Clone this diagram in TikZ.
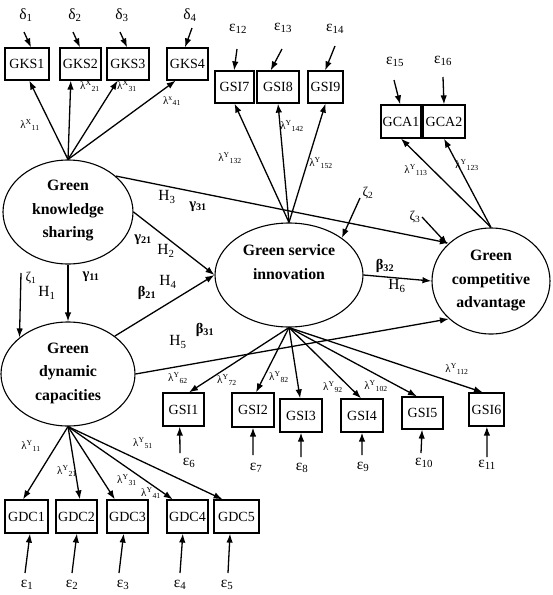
\documentclass[tikz,border=0pt]{standalone}
\usepackage{fontspec}
\setmainfont{Liberation Serif}
\usetikzlibrary{shapes.geometric,arrows.meta,calc}
\newcommand\lmb[2]{λ\textsuperscript{#1}\textsubscript{#2}}
\begin{document}
\begin{tikzpicture}[x=1pt,y=-1pt,
 arr/.style={-{Latex[length=9pt,width=6.5pt]}, line width=1.3pt},
 box/.style={draw, line width=1.2pt, minimum width=#1, minimum height=32pt, inner sep=0pt, font=\fontsize{14}{15}\selectfont},
 lat/.style={draw, ellipse, line width=1.1pt, inner sep=0pt},
 lattxt/.style={align=center, inner sep=0pt, font=\fontsize{15.8}{23.5}\selectfont\bfseries},
 err/.style={font=\fontsize{15.5}{17}\selectfont, inner sep=0pt},
 zet/.style={font=\fontsize{13.5}{15}\selectfont, inner sep=0pt},
 lam/.style={font=\fontsize{11}{12}\selectfont, inner sep=0pt},
 coef/.style={font=\fontsize{14.5}{16}\selectfont\bfseries, inner sep=0pt},
 hyp/.style={font=\fontsize{15.5}{17}\selectfont, inner sep=0pt},
]
\useasboundingbox (0,0) rectangle (553,595);

% latent variables
\node[lat, minimum width=130pt, minimum height=104pt] (gks) at (68,212) {};
\node[lat, minimum width=148pt, minimum height=104pt] (gsi) at (289,275) {};
\node[lat, minimum width=118pt, minimum height=106pt] (gca) at (491,281) {};
\node[lat, minimum width=134pt, minimum height=104pt] (gdc) at (68,374) {};
\node[lattxt] (gkst) at (68,211) {Green\\knowledge\\sharing};
\node[lattxt] (gsit) at (289,262) {Green service\\innovation};
\node[lattxt] (gcat) at (491,281) {Green\\competitive\\advantage};
\node[lattxt] (gdct) at (68,373) {Green\\dynamic\\capacities};

% GKS boxes
\node[box=44pt] (gks1) at (27,64) {GKS1};
\node[box=41pt] (gks2) at (80.5,64) {GKS2};
\node[box=42pt] (gks3) at (128,64) {GKS3};
\node[box=41pt] (gks4) at (187.5,64) {GKS4};
% GSI7-9
\node[box=39pt] (gsi7) at (234.5,87) {GSI7};
\node[box=42pt] (gsi8) at (278,87) {GSI8};
\node[box=35pt] (gsi9) at (325.5,87) {GSI9};
% GCA
\node[box=40pt, minimum height=33pt] (gca1) at (401,121.5) {GCA1};
\node[box=42pt, minimum height=33pt] (gca2) at (444,121.5) {GCA2};
% GSI1-6
\node[box=41pt, minimum height=33pt] (gsi1) at (183.5,409.5) {GSI1};
\node[box=42pt, minimum height=34pt] (gsi2) at (253,410) {GSI2};
\node[box=42pt, minimum height=33pt] (gsi3) at (301,415.5) {GSI3};
\node[box=42pt, minimum height=33pt] (gsi4) at (362,415.5) {GSI4};
\node[box=41pt, minimum height=32pt] (gsi5) at (422.5,413) {GSI5};
\node[box=35pt, minimum height=33pt] (gsi6) at (486.5,409.5) {GSI6};
% GDC
\node[box=43pt, minimum height=33pt] (gdc1) at (26.5,516.5) {GDC1};
\node[box=41pt, minimum height=33pt] (gdc2) at (76.5,516.5) {GDC2};
\node[box=41pt, minimum height=33pt] (gdc3) at (127.5,516.5) {GDC3};
\node[box=41pt, minimum height=33pt] (gdc4) at (187.5,516.5) {GDC4};
\node[box=45pt, minimum height=33pt] (gdc5) at (236.5,516.5) {GDC5};

% error labels
\node[err] (d1) at (26,15) {δ\textsubscript{1}};
\node[err] (d2) at (75,15) {δ\textsubscript{2}};
\node[err] (d3) at (122,15) {δ\textsubscript{3}};
\node[err] (d4) at (190,15) {δ\textsubscript{4}};
\node[err] (e12) at (238,29) {ε\textsubscript{12}};
\node[err] (e13) at (283,28) {ε\textsubscript{13}};
\node[err] (e14) at (335,29) {ε\textsubscript{14}};
\node[err] (e15) at (395,62) {ε\textsubscript{15}};
\node[err] (e16) at (443,61) {ε\textsubscript{16}};
\node[err] (e6) at (189,463) {ε\textsubscript{6}};
\node[err] (e7) at (256,468) {ε\textsubscript{7}};
\node[err] (e8) at (302,468) {ε\textsubscript{8}};
\node[err] (e9) at (363,467) {ε\textsubscript{9}};
\node[err] (e10) at (424,463) {ε\textsubscript{10}};
\node[err] (e11) at (487,465) {ε\textsubscript{11}};
\node[err] (e1) at (27,585) {ε\textsubscript{1}};
\node[err] (e2) at (72,585) {ε\textsubscript{2}};
\node[err] (e3) at (123,585) {ε\textsubscript{3}};
\node[err] (e4) at (180,585) {ε\textsubscript{4}};
\node[err] (e5) at (227,585) {ε\textsubscript{5}};
\node[zet] (z1) at (31,278) {ζ\textsubscript{1}};
\node[zet] (z2) at (368,193) {ζ\textsubscript{2}};
\node[zet] (z3) at (415,217) {ζ\textsubscript{3}};

% error arrow start points
\coordinate (cd1) at (24,32);
\coordinate (cd2) at (73,32);
\coordinate (cd3) at (120,32);
\coordinate (cd4) at (192,28);
\coordinate (ce12) at (237,49);
\coordinate (ce13) at (282,49);
\coordinate (ce14) at (335,46);
\coordinate (ce15) at (394,80);
\coordinate (ce16) at (443,77);
\coordinate (ce6) at (180,453);
\coordinate (ce7) at (253,455);
\coordinate (ce8) at (301,457);
\coordinate (ce9) at (362,455);
\coordinate (ce10) at (421,453);
\coordinate (ce11) at (487,457);
\coordinate (ce1) at (25,573);
\coordinate (ce2) at (72,573);
\coordinate (ce3) at (119,573);
\coordinate (ce4) at (180,573);
\coordinate (ce5) at (228,573);
\coordinate (cz1) at (21,273);
\coordinate (cz2) at (360,198);
\coordinate (cz3) at (422,217);

% error arrows
\draw[arr] (cd1) -- ($(gks1.north west)!0.59!(gks1.north east)$);
\draw[arr] (cd2) -- ($(gks2.north west)!0.49!(gks2.north east)$);
\draw[arr] (cd3) -- ($(gks3.north west)!0.48!(gks3.north east)$);
\draw[arr] (cd4) -- ($(gks4.north west)!0.44!(gks4.north east)$);
\draw[arr] (ce12) -- ($(gsi7.north west)!0.49!(gsi7.north east)$);
\draw[arr] (ce13) -- ($(gsi8.north west)!0.33!(gsi8.north east)$);
\draw[arr] (ce14) -- ($(gsi9.north west)!0.49!(gsi9.north east)$);
\draw[arr] (ce15) -- ($(gca1.north west)!0.48!(gca1.north east)$);
\draw[arr] (ce16) -- ($(gca2.north west)!0.5!(gca2.north east)$);
\draw[arr] (ce6) -- ($(gsi1.south west)!0.41!(gsi1.south east)$);
\draw[arr] (ce7) -- ($(gsi2.south west)!0.5!(gsi2.south east)$);
\draw[arr] (ce8) -- ($(gsi3.south west)!0.5!(gsi3.south east)$);
\draw[arr] (ce9) -- ($(gsi4.south west)!0.5!(gsi4.south east)$);
\draw[arr] (ce10) -- ($(gsi5.south west)!0.49!(gsi5.south east)$);
\draw[arr] (ce11) -- ($(gsi6.south west)!0.51!(gsi6.south east)$);
\draw[arr] (ce1) -- ($(gdc1.south west)!0.58!(gdc1.south east)$);
\draw[arr] (ce2) -- ($(gdc2.south west)!0.51!(gdc2.south east)$);
\draw[arr] (ce3) -- ($(gdc3.south west)!0.41!(gdc3.south east)$);
\draw[arr] (ce4) -- ($(gdc4.south west)!0.39!(gdc4.south east)$);
\draw[arr] (ce5) -- ($(gdc5.south west)!0.36!(gdc5.south east)$);
\draw[arr] (cz1) -- (gdc.143);
\draw[arr] (cz2) -- (gsi.35);
\draw[arr] (cz3) -- (gca.140);

% loadings
\draw[arr] (gks.north) -- ($(gks1.south west)!0.55!(gks1.south east)$);
\draw[arr] (gks.north) -- ($(gks2.south west)!0.27!(gks2.south east)$);
\draw[arr] (gks.north) -- ($(gks3.south west)!0.26!(gks3.south east)$);
\draw[arr] (gks.north) -- ($(gks4.south west)!0.22!(gks4.south east)$);
\draw[arr] (gsi.north) -- (gsi7.south);
\draw[arr] (gsi.north) -- (gsi8.south);
\draw[arr] (gsi.north) -- (gsi9.south);
\draw[arr] (gca.north) -- (gca1.south);
\draw[arr] (gca.north) -- (gca2.south);
\draw[arr] (gsi.south) -- ($(gsi1.north west)!0.63!(gsi1.north east)$);
\draw[arr] (gsi.south) -- ($(gsi2.north west)!0.57!(gsi2.north east)$);
\draw[arr] (gsi.south) -- ($(gsi3.north west)!0.48!(gsi3.north east)$);
\draw[arr] (gsi.south) -- ($(gsi4.north west)!0.48!(gsi4.north east)$);
\draw[arr] (gsi.south) -- ($(gsi5.north west)!0.37!(gsi5.north east)$);
\draw[arr] (gsi.south) -- ($(gsi6.north west)!0.4!(gsi6.north east)$);
\draw[arr] (gdc.south) -- ($(gdc1.north west)!0.42!(gdc1.north east)$);
\draw[arr] (gdc.south) -- ($(gdc2.north west)!0.58!(gdc2.north east)$);
\draw[arr] (gdc.south) -- ($(gdc3.north west)!0.2!(gdc3.north east)$);
\draw[arr] (gdc.south) -- ($(gdc4.north west)!0.15!(gdc4.north east)$);
\draw[arr] (gdc.south) -- ($(gdc5.north west)!0.2!(gdc5.north east)$);

% structural paths
\draw[arr] (gks.south) -- (gdc.north);
\draw[arr] (gks.east) -- (gsi.west);
\draw[arr] (gks.37.6) -- (gca.138);
\draw[arr] (gdc.39) -- (gsi.west);
\draw[arr] (gdc.east) -- (gca.222.8);
\draw[arr] (gsi.east) -- (gca.west);

% loading labels
\node[lam] (lx11) at (30,125) {\lmb{X}{11}};
\node[lam] (lx21) at (90,86) {\lmb{X}{21}};
\node[lam] (lx31) at (127,86) {\lmb{X}{31}};
\node[lam] (lx41) at (172,101) {\lmb{x}{41}};
\node[lam] (ly132) at (230,158) {\lmb{Y}{132}};
\node[lam] (ly142) at (292,126) {\lmb{Y}{142}};
\node[lam] (ly152) at (321,163) {\lmb{Y}{152}};
\node[lam] (ly113) at (416,170) {\lmb{Y}{113}};
\node[lam] (ly123) at (467,165) {\lmb{Y}{123}};
\node[lam] (ly62) at (178,378) {\lmb{Y}{62}};
\node[lam] (ly72) at (227,380) {\lmb{Y}{72}};
\node[lam] (ly82) at (279,377) {\lmb{Y}{82}};
\node[lam] (ly92) at (333,387) {\lmb{Y}{92}};
\node[lam] (ly102) at (376,386) {\lmb{Y}{102}};
\node[lam] (ly112) at (457,369) {\lmb{Y}{112}};
\node[lam] (ly11) at (31,446) {\lmb{Y}{11}};
\node[lam] (ly21) at (67,471) {\lmb{Y}{21}};
\node[lam] (ly31) at (127,480) {\lmb{Y}{31}};
\node[lam] (ly41) at (151,493) {\lmb{Y}{41}};
\node[lam] (ly51) at (143,443) {\lmb{Y}{51}};

% path coefficients and hypotheses
\node[hyp] (h3) at (167,197) {H\textsubscript{3}};
\node[coef] (g31) at (198,207) {γ\textsubscript{31}};
\node[coef] (g21) at (143,240) {γ\textsubscript{21}};
\node[hyp] (h2) at (166,251) {H\textsubscript{2}};
\node[hyp] (h4) at (168,282) {H\textsubscript{4}};
\node[coef] (b21) at (147,293) {β\textsubscript{21}};
\node[hyp] (h1) at (47,293) {H\textsubscript{1}};
\node[coef] (g11) at (91,277) {γ\textsubscript{11}};
\node[hyp] (h5) at (178,342) {H\textsubscript{5}};
\node[coef] (b31) at (205,330) {β\textsubscript{31}};
\node[coef] (b32) at (385,266) {β\textsubscript{32}};
\node[hyp] (h6) at (397,286) {H\textsubscript{6}};
\end{tikzpicture}
\end{document}
